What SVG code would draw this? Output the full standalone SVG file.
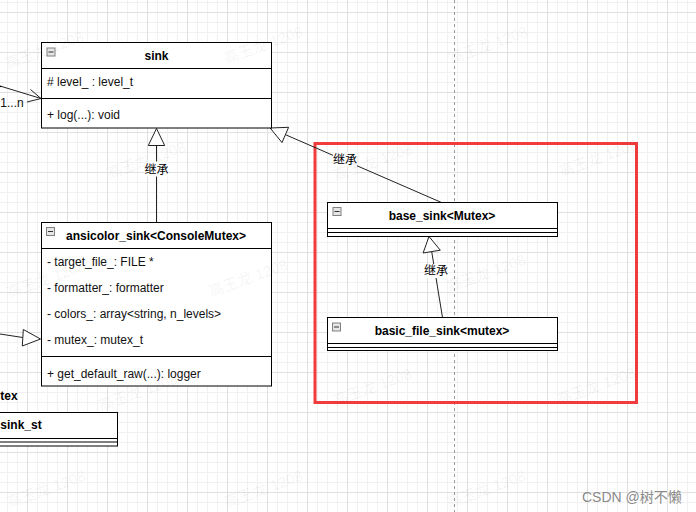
<svg xmlns="http://www.w3.org/2000/svg" xmlns:xlink="http://www.w3.org/1999/xlink" width="696" height="512" viewBox="0 0 696 512">
<defs>
<pattern id="grid" x="27" y="12" width="40" height="40" patternUnits="userSpaceOnUse">
<rect x="10" y="0" width="1" height="40" fill="#f1f1f1"/>
<rect x="20" y="0" width="1" height="40" fill="#f1f1f1"/>
<rect x="30" y="0" width="1" height="40" fill="#f1f1f1"/>
<rect x="0" y="10" width="40" height="1" fill="#f1f1f1"/>
<rect x="0" y="20" width="40" height="1" fill="#f1f1f1"/>
<rect x="0" y="30" width="40" height="1" fill="#f1f1f1"/>
<rect x="0" y="0" width="1" height="40" fill="#e0e0e0"/>
<rect x="0" y="0" width="40" height="1" fill="#e0e0e0"/>
</pattern>
<g id="collapse">
<rect x="0.5" y="0.5" width="8" height="8" fill="#e6e6e6" stroke="#808080" stroke-width="1"/>
<line x1="2" y1="4.5" x2="7" y2="4.5" stroke="#333" stroke-width="1"/>
</g>
<style>
.box{fill:#fff;stroke:#000;stroke-width:1}
.sep{stroke:#000;stroke-width:1}
.title{font-family:"Liberation Sans",Arial,sans-serif;font-size:12px;font-weight:bold;fill:#000}
.attr{font-family:"Liberation Sans",Arial,sans-serif;font-size:12px;fill:#111}
.edge{stroke:#222;stroke-width:1;fill:none}
.tri{fill:#fff;stroke:#222;stroke-width:1}
.lbl{font-family:"Liberation Sans","Noto Sans CJK SC",sans-serif;font-size:12px;fill:#000;text-anchor:middle}
.lblbg{fill:#fff}
.wm{font-family:"Liberation Sans","Noto Sans CJK SC",sans-serif;font-size:15px;fill:#000;fill-opacity:0.06;text-anchor:middle}
</style>
</defs>

<rect x="0" y="0" width="696" height="512" fill="#fff"/>
<rect x="0" y="0" width="696" height="512" fill="url(#grid)"/>
<line x1="454.5" y1="0" x2="454.5" y2="512" stroke="#9a9a9a" stroke-width="1" stroke-dasharray="3 3"/>

<rect x="315" y="143.5" width="321.5" height="259" fill="none" stroke="#f03c3c" stroke-width="3"/>

<g id="connectors">
<line class="edge" x1="0" y1="86" x2="41" y2="98.5"/>
<polyline class="edge" points="30.5,89.5 41,98.5 27,102"/>
<polygon points="-8,83.5 2.5,86.6 -8,89.5" fill="#000"/>
<text class="attr" x="0.3" y="107" fill="#222">1...n</text>
<line class="edge" x1="0" y1="334" x2="22.8" y2="337.5"/>
<polygon class="tri" points="40.5,339 23.3,329.5 22.3,346"/>
<line class="edge" x1="156.5" y1="145.5" x2="156.5" y2="222.5"/>
<polygon class="tri" points="156.5,128.5 148.3,145.5 164.7,145.5"/>
<rect class="lblbg" x="144.5" y="161.5" width="24" height="15"/>
<text class="lbl" x="156.5" y="173.5">继承</text>
<line class="edge" x1="285.3" y1="134.6" x2="441.5" y2="202.5"/>
<polygon class="tri" points="270.2,128 282,142.6 288.6,127.3"/>
<rect class="lblbg" x="333" y="152.5" width="24" height="14"/>
<text class="lbl" x="345" y="164">继承</text>
<line class="edge" x1="431.7" y1="251.6" x2="442.5" y2="317.5"/>
<polygon class="tri" points="429,236.5 423.1,253 440.3,250.2"/>
<rect class="lblbg" x="424" y="264" width="24" height="14"/>
<text class="lbl" x="436" y="275">继承</text>
</g>

<g id="sink">
<rect class="box" x="41.5" y="42.5" width="230" height="85.5"/>
<line class="sep" x1="41.5" y1="68.5" x2="271.5" y2="68.5"/>
<line class="sep" x1="41.5" y1="98.5" x2="271.5" y2="98.5"/>
<use xlink:href="#collapse" x="46.5" y="47.5"/>
<text class="title" x="156.5" y="60" text-anchor="middle">sink</text>
<text class="attr" x="47" y="86"># level_ : level_t</text>
<text class="attr" x="47" y="119">+ log(...): void</text>
</g>

<g id="ansicolor_sink">
<rect class="box" x="41.5" y="222.5" width="230" height="163.5"/>
<line class="sep" x1="41.5" y1="248.5" x2="271.5" y2="248.5"/>
<line class="sep" x1="41.5" y1="356.5" x2="271.5" y2="356.5"/>
<use xlink:href="#collapse" x="46" y="227"/>
<text class="title" x="156" y="240" text-anchor="middle">ansicolor_sink&lt;ConsoleMutex&gt;</text>
<text class="attr" x="47" y="266">- target_file_: FILE *</text>
<text class="attr" x="47" y="292">- formatter_: formatter</text>
<text class="attr" x="47" y="318">- colors_: array&lt;string, n_levels&gt;</text>
<text class="attr" x="47" y="344">- mutex_: mutex_t</text>
<text class="attr" x="47" y="378">+ get_default_raw(...): logger</text>
</g>

<g id="left_partial">
<text class="title" x="0.3" y="400">tex</text>
</g>

<g id="sink_st">
<rect class="box" x="-5" y="412.5" width="122.5" height="33.5"/>
<line class="sep" x1="-5" y1="438.5" x2="117.5" y2="438.5"/>
<line class="sep" x1="-5" y1="442" x2="117.5" y2="442"/>
<text class="title" x="0.3" y="428.5">sink_st</text>
</g>

<g id="base_sink">
<rect class="box" x="327.5" y="202.5" width="230" height="34"/>
<line class="sep" x1="327.5" y1="228.5" x2="557.5" y2="228.5"/>
<line class="sep" x1="327.5" y1="232.5" x2="557.5" y2="232.5"/>
<use xlink:href="#collapse" x="332.5" y="207"/>
<text class="title" x="442" y="220" text-anchor="middle">base_sink&lt;Mutex&gt;</text>
</g>

<g id="basic_file_sink">
<rect class="box" x="327.5" y="317.5" width="230" height="33"/>
<line class="sep" x1="327.5" y1="343.5" x2="557.5" y2="343.5"/>
<line class="sep" x1="327.5" y1="347.5" x2="557.5" y2="347.5"/>
<use xlink:href="#collapse" x="332" y="322.5"/>
<text class="title" x="442" y="335" text-anchor="middle">basic_file_sink&lt;mutex&gt;</text>
</g>

<g id="watermarks">
<text class="wm" transform="translate(46,55) rotate(-20)">高玉龙 1208</text>
<text class="wm" transform="translate(265,50) rotate(-20)">高玉龙 1208</text>
<text class="wm" transform="translate(490,50) rotate(-20)">高玉龙 1208</text>
<text class="wm" transform="translate(148,165) rotate(-20)">高玉龙 1208</text>
<text class="wm" transform="translate(375,167) rotate(-20)">高玉龙 1208</text>
<text class="wm" transform="translate(600,163) rotate(-20)">高玉龙 1208</text>
<text class="wm" transform="translate(48,284) rotate(-20)">高玉龙 1208</text>
<text class="wm" transform="translate(250,283) rotate(-20)">高玉龙 1208</text>
<text class="wm" transform="translate(488,278) rotate(-20)">高玉龙 1208</text>
<text class="wm" transform="translate(140,397) rotate(-20)">高玉龙 1208</text>
<text class="wm" transform="translate(374,392) rotate(-20)">高玉龙 1208</text>
<text class="wm" transform="translate(598,391) rotate(-20)">高玉龙 1208</text>
<text class="wm" transform="translate(48,494) rotate(-20)">高玉龙 1208</text>
<text class="wm" transform="translate(265,494) rotate(-20)">高玉龙 1208</text>
<text class="wm" transform="translate(488,494) rotate(-20)">高玉龙 1208</text>
</g>
<text x="582" y="502" font-family="'Liberation Sans','Noto Sans CJK SC',sans-serif" font-size="14" fill="#8a8a8a">CSDN @树不懒</text>
</svg>
